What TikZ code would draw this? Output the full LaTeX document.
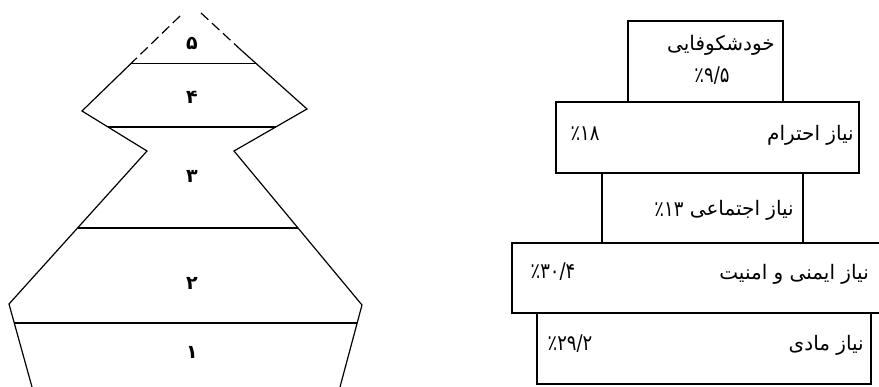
\documentclass[tikz,border=0pt]{standalone}
\usepackage{fontspec}
\newfontfamily\arabicfont[Script=Arabic]{DejaVu Sans}
\TeXXeTstate=1
\begin{document}
\begin{tikzpicture}[x=1pt,y=-1pt,
  outline/.style={line width=1.2pt, line join=miter},
  divider/.style={line width=1.2pt},
  dashedtop/.style={line width=1.2pt, dash pattern=on 10pt off 5pt},
  lvl/.style={font=\arabicfont\bfseries\fontsize{19}{19}\selectfont, inner sep=0pt},
  box/.style={draw, line width=1.2pt, inner sep=0pt},
  ptext/.style={font=\arabicfont\fontsize{20}{20}\selectfont, inner sep=0pt},
  pnum/.style={font=\arabicfont\fontsize{18}{18}\selectfont, inner sep=0pt, yscale=1.2},
]
\useasboundingbox (0,0) rectangle (879,387);
% pyramid vertices
\coordinate (LT) at (180,16);
\coordinate (LD) at (131,63.5);
\coordinate (L1) at (82,111);
\coordinate (L2) at (147,151);
\coordinate (L3) at (9,304);
\coordinate (LB) at (32,387);
\coordinate (RT) at (201,13);
\coordinate (RD) at (241,50);
\coordinate (R1) at (307,109);
\coordinate (R2) at (234,151);
\coordinate (R3) at (362,305);
\coordinate (RB) at (340,387);
\draw[dashedtop] (LT) -- (LD);
\draw[dashedtop] (RT) -- (RD);
\draw[outline] (LD) -- (L1) -- (L2) -- (L3) -- (LB);
\draw[outline] (RD) -- (R1) -- (R2) -- (R3) -- (RB);
% dividers
\coordinate (A1) at (131,63.5);   \coordinate (A2) at (256.8,63.5);
\coordinate (B1) at (108,127);    \coordinate (B2) at (275.7,127);
\coordinate (C1) at (77.5,228);   \coordinate (C2) at (298,228);
\coordinate (D1) at (14.3,323);   \coordinate (D2) at (357.2,323);
\draw[divider] (A1) -- (A2);
\draw[divider] (B1) -- (B2);
\draw[divider] (C1) -- (C2);
\draw[divider] (D1) -- (D2);
% level numbers
\node[lvl] (n5) at (192,43) {۵};
\node[lvl] (n4) at (192,97) {۴};
\node[lvl] (n3) at (192,176) {۳};
\node[lvl] (n2) at (192,283) {۲};
\node[lvl] (n1) at (192,352) {۱};
% boxes
\node[box, minimum width=155pt, minimum height=81pt] (b1) at (705.5,61.5) {};
\node[box, minimum width=303pt, minimum height=71pt] (b2) at (707.5,137.5) {};
\node[box, minimum width=201pt, minimum height=70pt] (b3) at (702.5,208) {};
\draw[line width=1.2pt] (879,243) -- (512,243) -- (512,313) -- (879,313);
\node[box, minimum width=334pt, minimum height=71pt] (b5) at (704,348.5) {};
% texts
\node[ptext] (t1a) at (721,45) {\beginR خودشکوفایی\endR};
\node[pnum] (t1b) at (712,76) {٪۹/۵};
\node[ptext, anchor=east] (t2a) at (854,135) {\beginR نیاز احترام\endR};
\node[pnum] (t2b) at (585,134) {٪۱۸};
\node[ptext, anchor=east] (t3a) at (794,210) {\beginR نیاز اجتماعی\endR};
\node[pnum, anchor=east] (t3b) at ([xshift=-6pt]t3a.west) {٪۱۳};
\node[ptext, anchor=east] (t4a) at (869,274) {\beginR نیاز ایمنی و امنیت\endR};
\node[pnum] (t4b) at (553,272) {٪۳۰/۴};
\node[ptext, anchor=east] (t5a) at (864,345) {\beginR نیاز مادی\endR};
\node[pnum] (t5b) at (570,344) {٪۲۹/۲};
\end{tikzpicture}
\end{document}
